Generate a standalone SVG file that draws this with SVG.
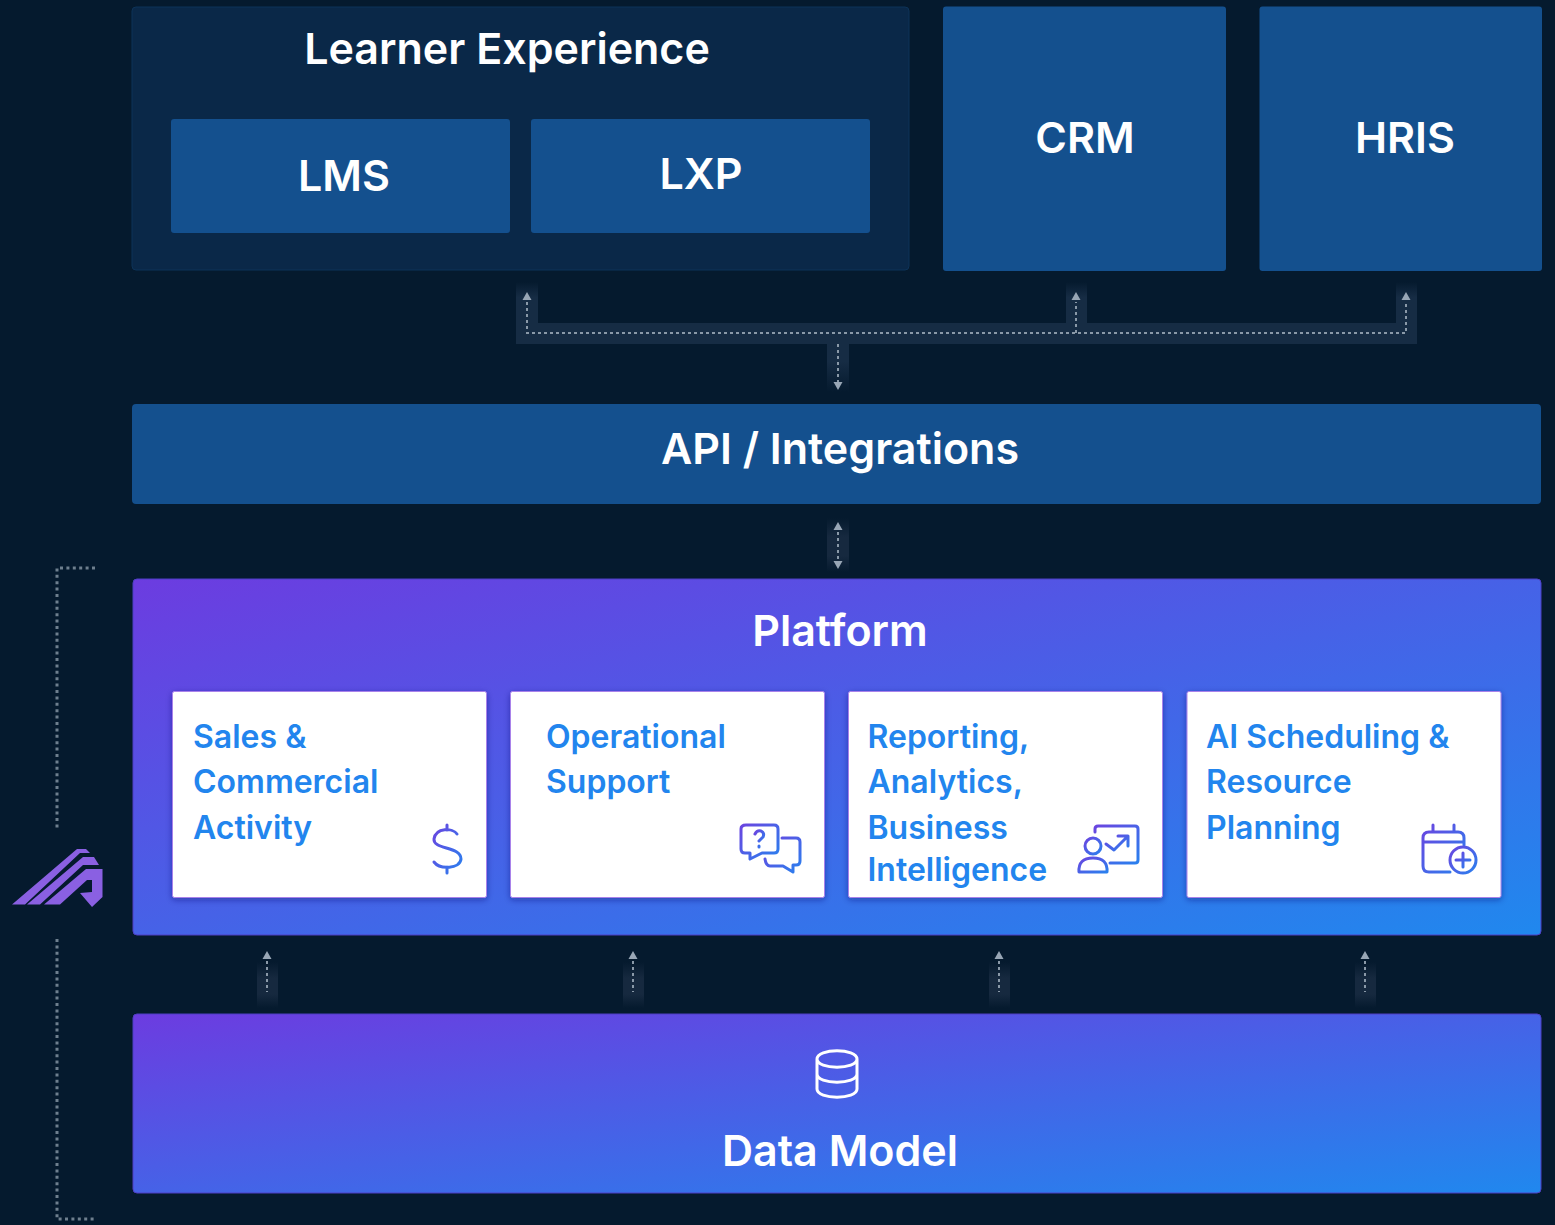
<svg xmlns="http://www.w3.org/2000/svg" width="1555" height="1225" viewBox="0 0 1555 1225">
<defs>
<linearGradient id="g1" x1="0" y1="0" x2="1" y2="1"><stop offset="0" stop-color="#6c3ce0"/><stop offset="1" stop-color="#2088ee"/></linearGradient>
<linearGradient id="ic" x1="0" y1="0" x2="1" y2="1"><stop offset="0" stop-color="#6a45e0"/><stop offset="1" stop-color="#2a80ee"/></linearGradient>
<linearGradient id="fu" x1="0" y1="0" x2="0" y2="1"><stop offset="0" stop-color="#16293f" stop-opacity="0"/><stop offset=".35" stop-color="#16293f"/><stop offset=".7" stop-color="#16293f"/><stop offset="1" stop-color="#16293f" stop-opacity="0"/></linearGradient>
<linearGradient id="bus" gradientUnits="userSpaceOnUse" x1="0" y1="282" x2="0" y2="392"><stop offset="0" stop-color="#162c44" stop-opacity="0"/><stop offset=".14" stop-color="#162c44"/><stop offset=".72" stop-color="#162c44"/><stop offset="1" stop-color="#162c44" stop-opacity="0"/></linearGradient>
<filter id="sh" x="-5%" y="-5%" width="110%" height="115%"><feDropShadow dx="0" dy="2" stdDeviation="3" flood-color="#1e1a70" flood-opacity=".45"/></filter>
</defs>
<style>
text{font-family:Inter,"Liberation Sans",sans-serif;}
.h{fill:#fff;font-size:43px;font-weight:600;text-anchor:middle}
.t{fill:#2285ee;font-size:32px;font-weight:600}
.b{fill:#14508e}
.i{fill:none;stroke:url(#ic);stroke-width:3;stroke-linecap:round;stroke-linejoin:round}
.d{fill:none;stroke:#8a99a8;stroke-width:2;stroke-dasharray:3 3}
.dd{fill:none;stroke:#6e7f8e;stroke-width:3;stroke-dasharray:3 3.4}
.a{fill:#98a6b5}
.f{fill:url(#fu)}
.c{fill:#fff;stroke:#a982ea;stroke-width:1;filter:url(#sh)}
.g{fill:url(#g1);stroke:#4f3fc4;stroke-width:1}
</style>
<rect width="1555" height="1225" fill="#051a2e"/>
<g id="connectors">
<path d="M516 282h22v41h528v-41h21v41h309v-41h21v62H849v50h-22v-50H516z" fill="url(#bus)"/>
<path class="d" d="M527 302V333H1406V302M1076 333V302M838 344V382"/>
<path class="a" d="M527 292l4.500 8h-9zM1076 292l4.500 8h-9zM1406 292l4.500 8h-9zM838 390l-4.500-8h9z"/>
<rect class="f" x="827" y="518" width="22" height="54"/>
<path class="d" d="M838 532V561"/>
<path class="a" d="M838 522l4.500 8h-9zM838 569l-4.500-8h9z"/>
<g id="feeds">
<rect class="f" x="257" y="962" width="21" height="46"/><rect class="f" x="623" y="962" width="21" height="46"/><rect class="f" x="989" y="962" width="21" height="46"/><rect class="f" x="1355" y="962" width="21" height="46"/>
<path class="d" d="M267 961V992M633 961V992M999 961V992M1365 961V992"/>
<path class="a" d="M267 951l4.500 8h-9zM633 951l4.500 8h-9zM999 951l4.500 8h-9zM1365 951l4.500 8h-9z"/>
</g>
<path class="dd" d="M95 568H57V829M57 939V1219H95"/>
</g>
<g id="learner-experience">
<rect x="132" y="7" width="777" height="263" rx="4" fill="#0a2848" stroke="#0d3358"/>
<text class="h" x="507" y="64">Learner Experience</text>
</g>
<g id="lms"><rect class="b" x="171" y="119" width="339" height="114" rx="3"/><text class="h" x="344" y="191">LMS</text></g>
<g id="lxp"><rect class="b" x="531" y="119" width="339" height="114" rx="3"/><text class="h" x="701" y="189">LXP</text></g>
<g id="crm"><rect class="b" x="943" y="6.500" width="283" height="264.500" rx="3"/><text class="h" x="1085" y="153">CRM</text></g>
<g id="hris"><rect class="b" x="1259.500" y="6.500" width="282.500" height="264.500" rx="3"/><text class="h" x="1405" y="153">HRIS</text></g>
<g id="api"><rect class="b" x="132" y="404" width="1409" height="100" rx="4"/><text class="h" x="840" y="464">API / Integrations</text></g>
<g id="platform"><rect class="g" x="133" y="579" width="1408" height="356" rx="4"/><text class="h" x="840" y="646">Platform</text></g>
<g id="sales"><rect class="c" x="172.500" y="691.500" width="314" height="206" rx="2"/>
<text class="t" x="193" y="748">Sales &amp;</text><text class="t" x="193" y="793">Commercial</text><text class="t" x="193" y="839">Activity</text>
<path class="i" d="M457 834C453 828 436 827 434 839C433 850 461 846 461 859C460 869 440 870 434 862M447 825V830M447 867V873"/></g>
<g id="ops"><rect class="c" x="510.500" y="691.500" width="314" height="206" rx="2"/>
<text class="t" x="546" y="748">Operational</text><text class="t" x="546" y="793">Support</text>
<path class="i" d="M746 825H774Q778 825 778 829V849Q778 853 774 853H762L750 859V853H745Q741 853 741 849V829Q741 825 746 825Z"/>
<path class="i" d="M782 838H796Q800 838 800 842V861Q800 865 796 865H793V872L783 866H770Q766 866 765 859"/>
<path class="i" d="M755 834Q757 830 761 831Q765 833 763 837L759 841M759 846V847"/>
</g>
<g id="reporting"><rect class="c" x="848.500" y="691.500" width="314" height="206" rx="2"/>
<text class="t" x="867.500" y="748">Reporting,</text><text class="t" x="867.500" y="793">Analytics,</text><text class="t" x="867.500" y="839">Business</text><text class="t" x="867.500" y="881">Intelligence</text>
<path class="i" d="M1095 832V829Q1095 826 1098 826H1135Q1138 826 1138 829V860Q1138 863 1135 863H1110"/>
<path class="i" d="M1106 844L1114 850L1127 837M1118 836H1128V846"/>
<circle class="i" cx="1093" cy="846" r="8"/>
<path class="i" d="M1079 872Q1078 858 1093 858Q1108 858 1107 872Z"/>
</g>
<g id="ai"><rect class="c" x="1187" y="691.500" width="314" height="206" rx="2"/>
<text class="t" x="1206" y="748">AI Scheduling &amp;</text><text class="t" x="1206" y="793">Resource</text><text class="t" x="1206" y="839">Planning</text>
<path class="i" d="M1450 872H1429Q1423 872 1423 866V838Q1423 832 1429 832H1458Q1464 832 1464 838V845M1423 842H1464M1433 825V832M1454 825V832"/>
<circle class="i" cx="1463" cy="860" r="13"/>
<path class="i" d="M1463 853V867M1456 860H1470"/>
</g>
<g id="data-model"><rect class="g" x="133" y="1014" width="1408" height="179" rx="4"/>
<path d="M817 1059C817 1048 857 1048 857 1059V1089C857 1100 817 1100 817 1089ZM817 1059C817 1070 857 1070 857 1059M817 1074C817 1085 857 1085 857 1074" fill="none" stroke="#fff" stroke-width="3"/>
<text class="h" x="840" y="1166">Data Model</text></g>
<g id="logo" fill="#8a60e2">
<path d="M12 904.500L77 849H86L90 853H80L25 904.500Z"/>
<path d="M27 904.500L83 857H94L99 865H83L40 904.500Z"/>
<path d="M44 904.500L86 869H102.500V897L92 907L80 893L92 892V880H87L60 904.500Z"/>
</g>
</svg>
